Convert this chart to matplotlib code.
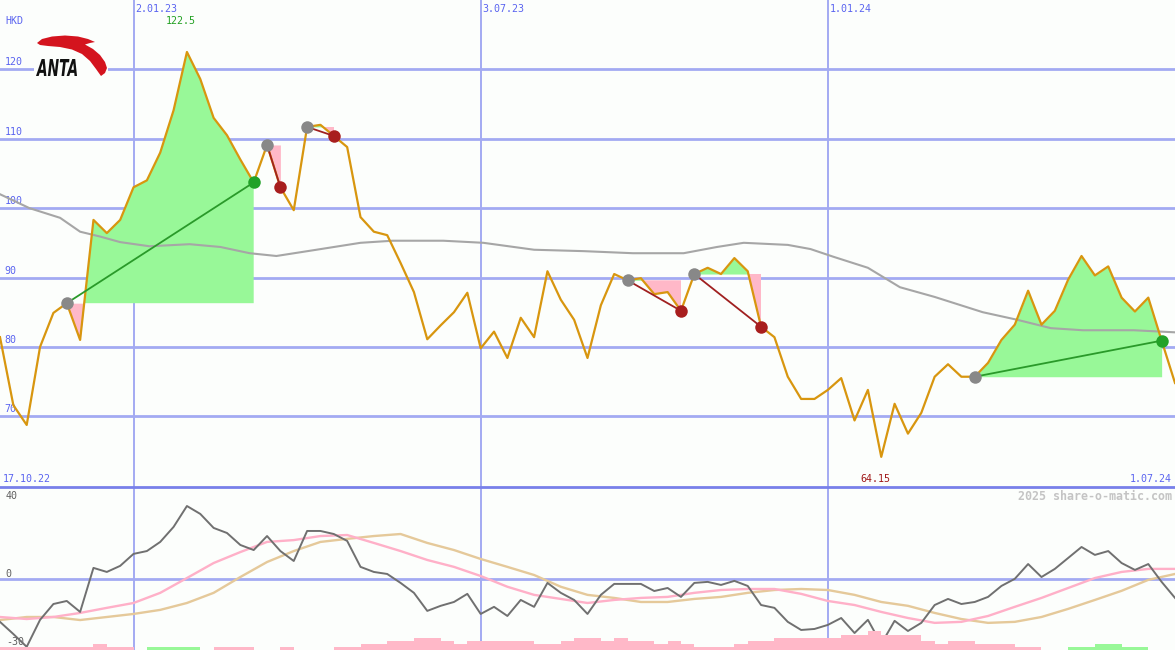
import matplotlib
matplotlib.use("Agg")
import matplotlib.pyplot as plt
import numpy as np
from matplotlib.textpath import TextPath
from matplotlib.patches import PathPatch, Polygon, Rectangle
from matplotlib.font_manager import FontProperties
from matplotlib.transforms import Affine2D, offset_copy, blended_transform_factory

# weekly closes in HKD, week 0 = left edge of chart
close = [81.4, 71.6, 68.75, 80.0, 84.9, 86.3, 81.0, 98.3, 96.4, 98.3,
         103.0, 104.0, 108.0, 114.1, 122.5, 118.6, 113.0, 110.5, 107.0, 103.7,
         109.1, 103.0, 99.7, 111.7, 112.0, 110.4, 108.8, 98.7, 96.6, 96.1,
         92.1, 87.9, 81.1, 83.1, 85.0, 87.8, 79.8, 82.2, 78.4, 84.2,
         81.4, 90.9, 86.8, 83.9, 78.4, 86.0, 90.5, 89.6, 89.9, 87.6,
         87.9, 85.2, 90.5, 91.4, 90.5, 92.8, 90.9, 82.9, 81.4, 75.7,
         72.5, 72.5, 73.8, 75.5, 69.4, 73.8, 64.15, 71.8, 67.5, 70.5,
         75.7, 77.5, 75.7, 75.7, 77.7, 81.0, 83.2, 88.1, 83.2, 85.2,
         89.7, 93.1, 90.3, 91.6, 87.1, 85.1, 87.1, 80.9, 74.8]

# long moving average (read at a few weeks)
ma_week = [0, 2.2, 4.5, 6, 7.5, 9, 11.2, 14.2, 16.5, 18.7, 20.7, 23.7, 27, 29.4,
           33.2, 36.2, 40, 43.7, 47.4, 51.2, 53.7, 55.7, 59, 60.7, 62.4, 65,
           67.4, 70, 73.6, 76.2, 78.7, 81.1, 84.9, 88]
ma_val = [102.0, 100.0, 98.6, 96.6, 95.9, 95.1, 94.5, 94.8, 94.4, 93.5, 93.1,
          94.0, 95.0, 95.3, 95.3, 95.0, 94.0, 93.8, 93.5, 93.5, 94.4, 95.0,
          94.7, 94.1, 93.0, 91.4, 88.6, 87.2, 85.0, 83.9, 82.7, 82.4, 82.4, 82.1]

# trades: entry week, exit week
entries = [5, 20, 23, 47, 52, 73]
exits = [19, 21, 25, 51, 57, 87]

# lower panel oscillator
osc = [-21.3, -27.3, -33.6, -20.3, -12.5, -11.0, -16.4, 5.3, 3.3, 6.3,
       12.2, 13.6, 18.1, 25.5, 35.8, 31.9, 25.0, 22.5, 16.6, 14.1,
       21.0, 13.6, 8.7, 23.5, 23.5, 22.0, 18.6, 5.8, 3.3, 2.3,
       -2.1, -7.0, -15.9, -13.4, -11.5, -7.5, -17.4, -13.9, -18.4, -10.5,
       -13.9, -2.1, -7.0, -10.5, -17.4, -8.0, -2.6, -2.6, -2.6, -6.1,
       -4.6, -9.0, -2.1, -1.6, -3.1, -1.1, -3.6, -13.0, -14.4, -21.3,
       -25.3, -24.8, -22.8, -19.4, -26.8, -20.3, -32.2, -20.8, -25.8, -21.8,
       -13.0, -10.0, -12.5, -11.5, -9.0, -3.6, -0.1, 7.2, 0.8, 4.8,
       10.2, 15.6, 11.7, 13.6, 7.7, 4.3, 7.2, -1.6, -9.5]

sig_week = list(range(0, 89, 2))
sig_pink = [-18.9, -19.9, -18.9, -16.9, -14.4, -12.0, -7.0, 0.3, 7.7, 13.1,
            18.1, 19.0, 21.0, 21.5, 17.6, 13.6, 9.2, 5.8, 1.3, -4.0,
            -8.0, -10.0, -12.0, -10.5, -9.5, -9.0, -7.0, -5.6, -5.1, -5.1,
            -7.5, -11.0, -13.0, -16.4, -19.4, -21.8, -21.3, -18.4, -13.9, -9.5,
            -4.6, 0.3, 3.3, 4.8, 4.8]
sig_tan = [-20.4, -18.9, -18.9, -20.4, -18.9, -17.4, -15.4, -12.0, -7.0, 0.8,
           8.2, 13.6, 18.1, 19.6, 21.0, 22.0, 17.6, 14.1, 9.7, 5.8,
           1.8, -4.0, -8.0, -9.5, -11.5, -11.5, -10.0, -9.0, -7.0, -5.6,
           -5.1, -5.6, -8.0, -11.5, -13.4, -16.9, -19.9, -21.8, -21.3, -18.9,
           -14.9, -10.5, -6.0, -0.6, 2.3]

# small bars at the bottom (+ green, - pink)
bar_lvl = [-1, -1, -1, -1, -1, -1, -1, -2, -1, -1,
           0, 1, 1, 1, 1, 0, -1, -1, -1, 0,
           0, -1, 0, 0, 0, -1, -1, -2, -2, -3,
           -3, -4, -4, -3, -2, -3, -3, -3, -3, -3,
           -2, -2, -3, -4, -4, -3, -4, -3, -3, -2,
           -3, -2, -1, -1, -1, -2, -3, -3, -4, -4,
           -4, -4, -4, -5, -5, -6, -5, -5, -5, -3,
           -2, -3, -3, -2, -2, -2, -1, -1, 0, 0,
           1, 1, 2, 2, 1, 1, 0, 0]

price_levels = [70, 80, 90, 100, 110, 120]
date_weeks = [10, 36, 62]
date_labels = ["2.01.23", "3.07.23", "1.01.24"]
first_label = "17.10.22"
last_label = "1.07.24"

bg = '#fcfefc'
grid_c = '#a3aaf2'
lab_c = '#5a64f0'
fill_g = '#98f898'
fill_p = '#ffb8c8'

W, H = 1175, 650
fig = plt.figure(figsize=(W / 100, H / 100), dpi=100, facecolor=bg)
top_h = 487 / H
ax = fig.add_axes([0, 1 - top_h, 1, top_h])
axb = fig.add_axes([0, 0, 1, 1 - top_h])
for a in (ax, axb):
    a.set_facecolor('none')
    a.axis('off')
    a.set_xlim(0, 88)

ax.set_ylim(59.81, 129.99)
axb.set_ylim(-35.17, 45.17)

weeks = np.arange(len(close))
close = np.array(close)

mono = 'DejaVu Sans Mono'
fs = 7.2

# grid
for lv in price_levels:
    ax.axhline(lv, color=grid_c, lw=2, zorder=1)
    tr = offset_copy(ax.get_yaxis_transform(), fig=fig, y=2, units='dots')
    ax.text(0.004, lv, str(lv), transform=tr, va='bottom', ha='left',
            color=lab_c, family=mono, fontsize=fs)
for w, lbl in zip(date_weeks, date_labels):
    ax.axvline(w, color=grid_c, lw=1.4, zorder=1)
    axb.axvline(w, color=grid_c, lw=1.4, zorder=1)
    tr = blended_transform_factory(ax.transData, ax.transAxes)
    tr = offset_copy(tr, fig=fig, x=2, units='dots')
    ax.text(w, 1 - 9 / 487, lbl, transform=tr, va='center', ha='left',
            color=lab_c, family=mono, fontsize=fs)
axb.axhline(0, color=grid_c, lw=2, zorder=1)

ax.text(0.005, 1 - 21 / 487, "HKD", transform=ax.transAxes, va='center',
        ha='left', color=lab_c, family=mono, fontsize=fs)

# moving average
ax.plot(ma_week, ma_val, color='#a6a6a6', lw=1.5, zorder=3)

# trades
for e, x in zip(entries, exits):
    w = weeks[e:x + 1]
    p = close[e:x + 1]
    base = close[e]
    ax.fill_between(w, base, p, where=p >= base, interpolate=True,
                    color=fill_g, lw=0, zorder=2)
    ax.fill_between(w, base, p, where=p <= base, interpolate=True,
                    color=fill_p, lw=0, zorder=2)
    win = close[x] > close[e]
    ax.plot([e, x], [close[e], close[x]], color='#2a9a2a' if win else '#a02020',
            lw=1.3, zorder=5)

ax.plot(weeks, close, color='#d8960f', lw=1.6, zorder=4)

for e, x in zip(entries, exits):
    win = close[x] > close[e]
    ax.plot(e, close[e], 'o', color='#888888', ms=9, mew=0, zorder=6)
    ax.plot(x, close[x], 'o', color='#22a228' if win else '#a81e1e', ms=9,
            mew=0, zorder=6)

# high / low labels
hi = int(np.argmax(close))
lo = int(np.argmin(close))
tr = offset_copy(blended_transform_factory(ax.transData, ax.transAxes),
                 fig=fig, x=-6, units='dots')
ax.text(hi, 1 - 21 / 487, f"{close[hi]:.1f}", transform=tr, ha='center',
        va='center', color='#22a022', family=mono, fontsize=fs)
ax.text(lo, 1 - 479 / 487, f"{close[lo]:.2f}", transform=tr, ha='center',
        va='center', color='#a01818', family=mono, fontsize=fs)
ax.text(0.002, 1 - 479 / 487, first_label, transform=ax.transAxes, ha='left',
        va='center', color=lab_c, family=mono, fontsize=fs)
ax.text(0.997, 1 - 479 / 487, last_label, transform=ax.transAxes, ha='right',
        va='center', color=lab_c, family=mono, fontsize=fs)

# lower panel
axb2 = axb.twinx()
axb2.axis('off')
axb2.set_ylim(0, 163 / 3.1)
lv = np.array(bar_lvl)
axb2.bar(np.arange(len(lv)), np.abs(lv), width=1, align='edge',
         color=np.where(lv > 0, fill_g, fill_p), lw=0, zorder=1)

axb.plot(sig_week, sig_tan, color='#e5c99a', lw=1.7, zorder=3)
axb.plot(sig_week, sig_pink, color='#ffb0c8', lw=1.7, zorder=3)
axb.plot(weeks, osc, color='#707070', lw=1.4, zorder=4)

for val, txt in [(40.5, "40"), (2.5, "0"), (-31.2, "-30")]:
    axb.text(0.005, val, txt, transform=axb.get_yaxis_transform(), va='center',
             ha='left', color='#606060', family=mono, fontsize=fs)

# overlay: separator, watermark, logo
ov = fig.add_axes([0, 0, 1, 1])
ov.set_xlim(0, W)
ov.set_ylim(H, 0)
ov.axis('off')
ov.set_facecolor('none')
ov.axhline(487, color='#7880ea', lw=2)
ov.text(1172, 496, "2025 share-o-matic.com", ha='right', va='center',
        color='#c4c4c4', family=mono, fontsize=8.4, fontweight='bold')

ov.add_patch(Rectangle((34, 30), 74, 50, color=bg, lw=0))
swoosh = [(37, 43), (42, 39), (52, 36.5), (65, 35.5), (78, 36.5), (88, 39),
          (95, 42), (90, 43), (85, 44.5), (93, 49), (100, 55), (105, 62),
          (107, 68), (105, 73), (101, 76), (96, 69), (90, 61), (82, 54),
          (72, 49.5), (60, 47), (48, 46), (40, 45)]
ov.add_patch(Polygon(swoosh, closed=True, color='#d4141e', lw=0))
fp = FontProperties(family='DejaVu Sans', weight='bold', style='italic')
tp = TextPath((0, 0), "ANTA", size=1, prop=fp)
bb = tp.get_extents()
t = Affine2D().translate(-bb.x0, -bb.y0).scale(41 / bb.width, -17 / bb.height).translate(36, 76)
ov.add_patch(PathPatch(t.transform_path(tp), color='#111111', lw=0))

fig.savefig("out.png", dpi=100, facecolor=bg)
